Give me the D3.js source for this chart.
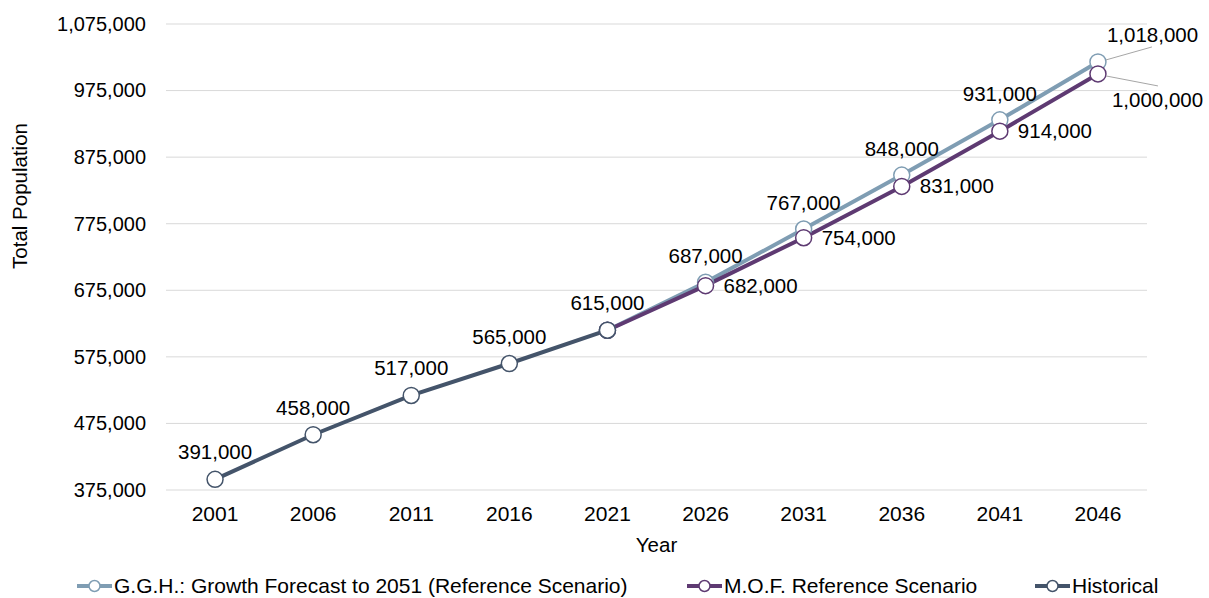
<!DOCTYPE html>
<html>
<script src="https://cdn.jsdelivr.net/npm/d3@7/dist/d3.min.js"></script>
<style>
  body, html { margin: 0; padding: 0; background: #fff; }
  svg { display: block; font-family: "Liberation Sans", Arial, sans-serif; }
</style>
<body>
<svg width="1209" height="598"></svg>
<script>

  var years = ['2001', '2006', '2011', '2016', '2021', '2026', '2031', '2036', '2041', '2046'];
  var histYears = ['2001', '2006', '2011', '2016', '2021'];
  var histValues = [391000, 458000, 517000, 565000, 615000];
  var projYears = ['2021', '2026', '2031', '2036', '2041', '2046'];
  var gghValues = [615000, 687000, 767000, 848000, 931000, 1018000];
  var mofValues = [615000, 682000, 754000, 831000, 914000, 1000000];
  var yTicks = [375000, 475000, 575000, 675000, 775000, 875000, 975000, 1075000];

  var colors = { ggh: '#7f9db3', mof: '#5e3a72', hist: '#44546a' };

  var svg = d3.select('svg');
  var plotLeft = 166, plotRight = 1147, plotTop = 24, plotBottom = 490;

  var x = d3.scaleBand().domain(years).range([plotLeft, plotRight]);
  var y = d3.scaleLinear().domain([375000, 1075000]).range([plotBottom, plotTop]);
  var fmt = d3.format(',');
  var cx = function (yr) { return x(yr) + x.bandwidth() / 2; };

  // gridlines
  svg.append('g')
    .selectAll('line').data(yTicks).enter().append('line')
    .attr('x1', plotLeft).attr('x2', plotRight)
    .attr('y1', function (d) { return y(d); }).attr('y2', function (d) { return y(d); })
    .attr('stroke', '#d9d9d9').attr('stroke-width', 1);

  // y axis
  var yAxis = svg.append('g')
    .attr('transform', 'translate(' + plotLeft + ',0)')
    .call(d3.axisLeft(y).tickValues(yTicks).tickFormat(fmt).tickSize(0).tickPadding(20));
  yAxis.select('.domain').remove();
  yAxis.selectAll('text').attr('font-size', 20).attr('fill', '#000').attr('font-family', 'Liberation Sans, Arial, sans-serif');

  // x axis
  var xAxis = svg.append('g')
    .attr('transform', 'translate(0,' + plotBottom + ')')
    .call(d3.axisBottom(x).tickSize(0).tickPadding(16));
  xAxis.select('.domain').remove();
  xAxis.selectAll('text').attr('font-size', 21).attr('fill', '#000').attr('font-family', 'Liberation Sans, Arial, sans-serif');

  // axis titles
  svg.append('text')
    .attr('x', (plotLeft + plotRight) / 2).attr('y', 552)
    .attr('text-anchor', 'middle').attr('font-size', 20.5).text('Year');
  svg.append('text')
    .attr('transform', 'translate(27,196) rotate(-90)')
    .attr('text-anchor', 'middle').attr('font-size', 20.5).text('Total Population');

  var line = d3.line()
    .x(function (d) { return cx(d.year); })
    .y(function (d) { return y(d.value); });

  function zipData(ys, vs) {
    return ys.map(function (yr, i) { return { year: yr, value: vs[i] }; });
  }

  var ggh = zipData(projYears, gghValues);
  var mof = zipData(projYears, mofValues);
  var hist = zipData(histYears, histValues);

  [[ggh, colors.ggh], [mof, colors.mof], [hist, colors.hist]].forEach(function (s) {
    svg.append('path').datum(s[0])
      .attr('d', line).attr('fill', 'none')
      .attr('stroke', s[1]).attr('stroke-width', 4);
  });

  [[ggh, colors.ggh], [mof, colors.mof], [hist, colors.hist]].forEach(function (s) {
    svg.append('g').selectAll('circle').data(s[0]).enter().append('circle')
      .attr('cx', function (d) { return cx(d.year); })
      .attr('cy', function (d) { return y(d.value); })
      .attr('r', 8).attr('fill', '#fff')
      .attr('stroke', s[1]).attr('stroke-width', 1.5);
  });

  // data labels
  var labels = svg.append('g').attr('font-size', 20.5).attr('fill', '#000');

  hist.forEach(function (d) {
    labels.append('text')
      .attr('x', cx(d.year)).attr('y', y(d.value) - 20)
      .attr('text-anchor', 'middle').text(fmt(d.value));
  });

  ggh.slice(1, 5).forEach(function (d) {
    labels.append('text')
      .attr('x', cx(d.year)).attr('y', y(d.value) - 19)
      .attr('text-anchor', 'middle').text(fmt(d.value));
  });

  mof.slice(1, 5).forEach(function (d) {
    labels.append('text')
      .attr('x', cx(d.year) + 18).attr('y', y(d.value) + 7)
      .attr('text-anchor', 'start').text(fmt(d.value));
  });

  // last points with leader lines
  var gLast = ggh[ggh.length - 1], mLast = mof[mof.length - 1];
  svg.append('line')
    .attr('x1', cx(gLast.year) + 8).attr('y1', y(gLast.value) - 2)
    .attr('x2', cx(gLast.year) + 54).attr('y2', y(gLast.value) - 15)
    .attr('stroke', '#a6a6a6').attr('stroke-width', 1);
  labels.append('text')
    .attr('x', cx(gLast.year) + 9).attr('y', y(gLast.value) - 20)
    .text(fmt(gLast.value));
  svg.append('line')
    .attr('x1', cx(mLast.year) + 8).attr('y1', y(mLast.value) + 2)
    .attr('x2', cx(mLast.year) + 60).attr('y2', y(mLast.value) + 12)
    .attr('stroke', '#a6a6a6').attr('stroke-width', 1);
  labels.append('text')
    .attr('x', cx(mLast.year) + 14).attr('y', y(mLast.value) + 33)
    .text(fmt(mLast.value));

  // legend
  var legendItems = [
    { name: 'G.G.H.: Growth Forecast to 2051 (Reference Scenario)', color: colors.ggh, x: 77 },
    { name: 'M.O.F. Reference Scenario', color: colors.mof, x: 687 },
    { name: 'Historical', color: colors.hist, x: 1035 }
  ];
  var leg = svg.append('g').attr('transform', 'translate(0,586)');
  legendItems.forEach(function (it) {
    var g = leg.append('g').attr('transform', 'translate(' + it.x + ',0)');
    g.append('line').attr('x1', 0).attr('x2', 35).attr('y1', 0).attr('y2', 0)
      .attr('stroke', it.color).attr('stroke-width', 4);
    g.append('circle').attr('cx', 17.5).attr('cy', 0).attr('r', 5.5)
      .attr('fill', '#fff').attr('stroke', it.color).attr('stroke-width', 1.5);
    g.append('text').attr('x', 37).attr('y', 7).attr('font-size', 21).text(it.name);
  });

</script>
</body>
</html>
